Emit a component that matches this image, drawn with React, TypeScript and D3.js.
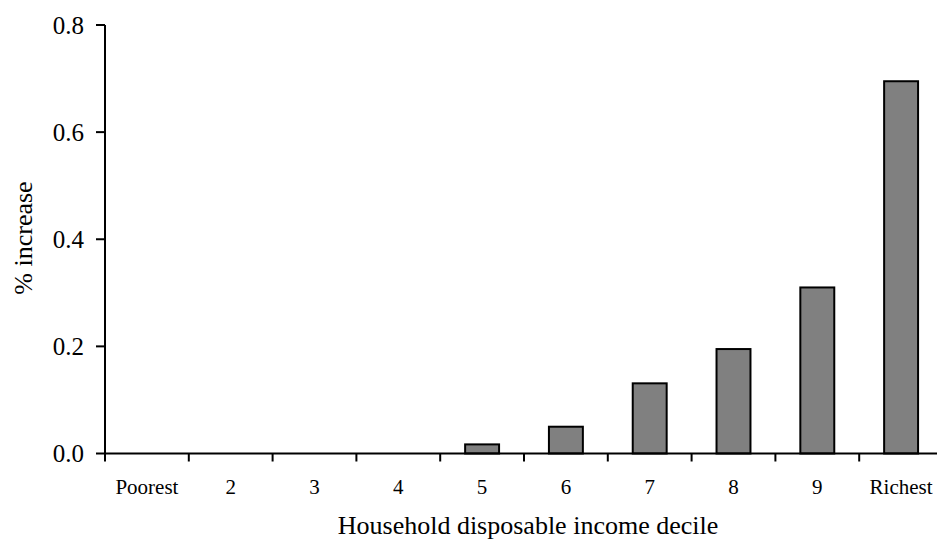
import React from "react";
import * as d3 from "d3";

const categories = ["Poorest", "2", "3", "4", "5", "6", "7", "8", "9", "Richest"];
const values = [0, 0, 0, 0, 0.017, 0.05, 0.131, 0.195, 0.31, 0.695];
const yTicks = [0, 0.2, 0.4, 0.6, 0.8];
const yLabel = "% increase";
const xLabel = "Household disposable income decile";

const W = 937;
const H = 540;
const FONT = "'Liberation Serif', 'Times New Roman', serif";

export default function App() {
  const x = d3.scaleBand<string>().domain(categories).range([105, 943]).padding(0);
  const y = d3.scaleLinear().domain([0, 0.8]).range([453.5, 25]);
  const bw = x.bandwidth();
  const barW = bw * 0.405;
  const y0 = y(0);
  const boundaries = categories.map((c) => x(c) as number).concat([x.range()[1]]);

  return (
    <svg
      width={W}
      height={H}
      style={{ position: "absolute", left: 0, top: 0, background: "#fff" }}
      fontFamily={FONT}
    >
      <rect x={0} y={0} width={W} height={H} fill="#fff" />
      {/* bars */}
      {categories.map((c, i) =>
        values[i] > 0 ? (
          <rect
            key={c}
            x={(x(c) as number) + (bw - barW) / 2}
            y={y(values[i])}
            width={barW}
            height={y0 - y(values[i])}
            fill="#808080"
            stroke="#000"
            strokeWidth={2}
          />
        ) : null
      )}
      {/* y axis */}
      <line x1={105} x2={105} y1={y(0.8)} y2={y0} stroke="#000" strokeWidth={2} />
      {yTicks.map((t) => (
        <g key={t}>
          <line x1={96} x2={105} y1={y(t)} y2={y(t)} stroke="#000" strokeWidth={2} />
          <text x={84} y={y(t)} dy="0.34em" textAnchor="end" fontSize={25} fill="#000">
            {t.toFixed(1)}
          </text>
        </g>
      ))}
      {/* x axis */}
      <line x1={105} x2={x.range()[1]} y1={y0} y2={y0} stroke="#000" strokeWidth={2} />
      {boundaries.map((b, i) => (
        <line key={i} x1={b} x2={b} y1={y0} y2={y0 + 8} stroke="#000" strokeWidth={2} />
      ))}
      {categories.map((c) => (
        <text
          key={c}
          x={(x(c) as number) + bw / 2}
          y={494}
          textAnchor="middle"
          fontSize={21}
          fill="#000"
        >
          {c}
        </text>
      ))}
      <text x={528} y={534} textAnchor="middle" fontSize={26} fill="#000">
        {xLabel}
      </text>
      <text
        transform={`translate(32,${238}) rotate(-90)`}
        textAnchor="middle"
        fontSize={26}
        fill="#000"
      >
        {yLabel}
      </text>
    </svg>
  );
}
